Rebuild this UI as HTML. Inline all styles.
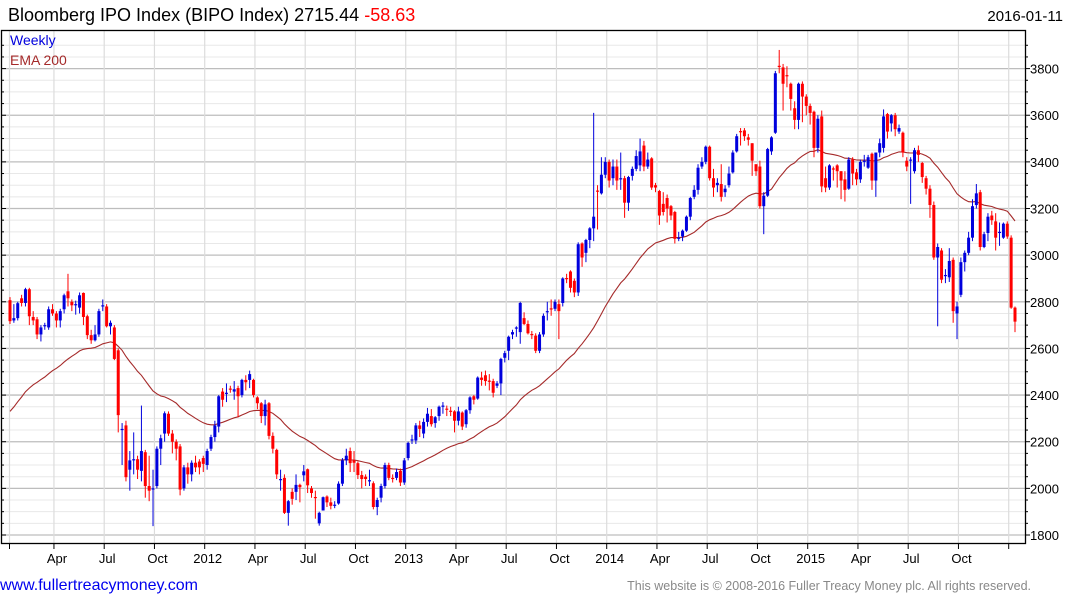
<!DOCTYPE html>
<html><head><meta charset="utf-8">
<style>
body{margin:0;background:#fff;width:1075px;height:600px;overflow:hidden;font-family:"Liberation Sans",Arial,sans-serif;}
svg{display:block}
</style></head>
<body>
<svg id="chart" width="1075" height="600" xmlns="http://www.w3.org/2000/svg">
<g id="grid"></g>
<g id="ema"></g>
<g id="candles"></g>
<rect x="1.5" y="30.5" width="1024" height="513" fill="none" stroke="#000" stroke-width="1.3"/>
<g id="axes" font-size="13" fill="#000"></g>
<text x="8" y="21" font-size="18" fill="#000">Bloomberg IPO Index (BIPO Index) 2715.44 <tspan fill="#ff0000">-58.63</tspan></text>
<text x="1063" y="21" font-size="15" fill="#000" text-anchor="end">2016-01-11</text>
<text x="10" y="45" font-size="14" fill="#0000dd">Weekly</text>
<text x="10" y="65" font-size="14" fill="#a52a2a">EMA 200</text>
<text x="0" y="590" font-size="16" fill="#0000ee">www.fullertreacymoney.com</text>
<text x="1031" y="590" font-size="12.5" fill="#888" text-anchor="end">This website is © 2008-2016 Fuller Treacy Money plc. All rights reserved.</text>
</svg>
<script>
const opens=[2807,2720,2730,2815,2795,2854,2735,2725,2660,2695,2690,2768,2750,2720,2768,2845,2800,2785,2775,2838,2738,2657,2635,2660,2780,2780,2695,2690,2592,2250,2270,2080,2122,2125,2075,2155,2010,1995,2010,2170,2235,2320,2235,2200,2180,2000,2090,2060,2110,2115,2130,2100,2170,2220,2265,2415,2405,2428,2415,2430,2400,2465,2465,2465,2390,2365,2310,2365,2225,2165,2038,2045,1895,1985,1985,2015,2056,2082,2000,1963,1850,1905,1965,1940,1928,1935,2020,2120,2160,2120,2108,2057,2050,2033,2022,1920,1960,2010,2100,2045,2045,2075,2025,2130,2205,2205,2270,2235,2285,2310,2280,2310,2352,2342,2333,2330,2290,2325,2275,2335,2395,2385,2475,2485,2462,2460,2440,2450,2560,2590,2660,2685,2670,2730,2705,2662,2655,2590,2660,2755,2772,2770,2790,2795,2902,2930,2890,2840,3050,3010,3065,3115,3277,3265,3345,3400,3330,3380,3328,3330,3225,3340,3370,3385,3470,3380,3415,3300,3275,3220,3245,3210,3185,3073,3080,3105,3165,3250,3280,3380,3400,3465,3330,3300,3305,3270,3300,3355,3445,3532,3535,3505,3480,3390,3380,3210,3255,3445,3525,3812,3805,3772,3735,3630,3580,3735,3680,3640,3615,3460,3595,3330,3290,3372,3385,3360,3325,3285,3410,3355,3325,3403,3375,3435,3320,3440,3460,3605,3565,3600,3530,3525,3405,3405,3360,3450,3395,3330,3285,3215,2990,3020,2912,2905,2980,2750,2830,2970,3010,3075,3215,3270,3035,3095,3170,3145,3095,3075,3135,3075,2775];
const closes=[2717,2730,2794,2795,2854,2738,2720,2660,2690,2700,2768,2750,2720,2760,2828,2815,2785,2790,2828,2735,2657,2635,2660,2760,2785,2695,2710,2555,2314,2255,2048,2120,2125,2080,2160,2010,1990,2000,2170,2215,2322,2235,2200,2170,1995,2090,2060,2110,2090,2090,2105,2160,2220,2270,2395,2380,2410,2425,2425,2395,2465,2455,2490,2400,2365,2310,2360,2225,2170,2060,2040,1895,1945,1955,2015,2005,2073,2013,1980,1962,1895,1962,1940,1925,1930,2020,2120,2140,2108,2110,2057,2040,2040,2035,1920,1950,2010,2100,2045,2040,2070,2025,2120,2195,2210,2270,2255,2285,2320,2275,2305,2350,2355,2340,2330,2290,2330,2265,2335,2390,2380,2475,2465,2460,2460,2410,2450,2555,2580,2650,2670,2690,2795,2705,2665,2660,2590,2660,2740,2760,2770,2800,2760,2900,2900,2860,2840,3047,2990,3065,3115,3165,3275,3345,3400,3320,3380,3320,3330,3225,3335,3370,3425,3445,3380,3410,3290,3290,3170,3185,3200,3170,3070,3075,3105,3165,3245,3280,3375,3400,3465,3330,3290,3310,3250,3285,3350,3440,3510,3530,3510,3495,3405,3360,3210,3255,3455,3505,3780,3810,3735,3770,3670,3580,3735,3680,3640,3610,3460,3585,3295,3290,3385,3370,3360,3320,3280,3410,3350,3325,3400,3405,3420,3320,3440,3480,3595,3530,3600,3540,3545,3440,3380,3410,3450,3430,3335,3285,3215,2990,3035,2895,2915,2975,2760,2780,2970,3010,3075,3210,3265,3035,3090,3165,3150,3075,3100,3135,3080,2775,2715];
const highs=[2820,2790,2800,2830,2860,2860,2760,2735,2700,2710,2780,2790,2760,2770,2835,2920,2810,2805,2840,2840,2745,2680,2700,2770,2810,2790,2720,2700,2600,2280,2290,2160,2240,2140,2355,2165,2140,2080,2180,2230,2330,2330,2250,2210,2190,2100,2110,2120,2140,2125,2140,2170,2230,2290,2400,2430,2450,2440,2460,2440,2470,2485,2505,2470,2395,2370,2380,2370,2240,2170,2080,2060,1950,2000,2060,2020,2100,2085,2010,1990,1900,1965,1970,1960,1945,2030,2130,2170,2175,2160,2115,2075,2060,2080,2030,1960,2020,2110,2110,2060,2085,2085,2130,2200,2230,2280,2290,2300,2345,2340,2310,2355,2370,2355,2350,2335,2350,2330,2340,2395,2400,2480,2500,2505,2490,2470,2460,2560,2590,2655,2680,2695,2800,2755,2720,2675,2665,2670,2750,2800,2810,2810,2810,2905,2920,2935,2900,3055,3055,3070,3120,3610,3300,3420,3420,3410,3410,3410,3440,3340,3340,3380,3450,3500,3490,3440,3420,3310,3280,3270,3260,3215,3190,3100,3110,3170,3250,3300,3390,3420,3470,3470,3370,3330,3390,3300,3380,3450,3520,3545,3545,3520,3480,3390,3405,3270,3460,3510,3790,3880,3820,3810,3740,3660,3740,3745,3690,3650,3620,3600,3620,3380,3390,3380,3390,3360,3360,3420,3420,3370,3410,3430,3430,3440,3440,3500,3625,3610,3605,3610,3560,3530,3420,3420,3460,3470,3400,3340,3300,3230,3050,3030,2940,3030,2990,2800,2990,3020,3100,3240,3305,3280,3100,3180,3190,3180,3140,3140,3145,3085,2780];
const lows=[2705,2710,2720,2780,2780,2700,2700,2640,2630,2680,2680,2740,2690,2690,2750,2780,2760,2745,2750,2700,2640,2620,2630,2650,2760,2690,2660,2550,2240,2100,2030,1990,2060,2040,2030,1960,1945,1838,2000,2100,2200,2225,2150,2120,1970,1990,2020,2030,2070,2060,2070,2080,2160,2200,2240,2350,2370,2410,2380,2305,2390,2420,2430,2390,2340,2280,2270,2210,2150,2040,1990,1890,1840,1930,1950,1940,2030,1980,1960,1870,1840,1920,1920,1910,1915,1930,2010,2100,2070,2070,2040,2000,2010,2010,1910,1885,1940,2000,2035,2025,2035,2010,2015,2120,2190,2190,2220,2215,2265,2265,2260,2290,2320,2310,2310,2240,2270,2250,2260,2320,2360,2380,2440,2440,2420,2390,2430,2400,2540,2550,2640,2650,2620,2700,2660,2640,2580,2580,2650,2720,2740,2760,2640,2780,2880,2840,2820,2825,2950,2970,3030,3060,3110,3260,3330,3290,3300,3280,3280,3160,3190,3320,3360,3360,3360,3370,3280,3270,3130,3170,3140,3150,3050,3060,3060,3100,3150,3240,3260,3370,3390,3320,3250,3270,3230,3250,3290,3350,3440,3470,3490,3470,3340,3340,3200,3090,3250,3430,3520,3780,3620,3720,3620,3540,3540,3570,3600,3560,3420,3440,3270,3270,3280,3320,3290,3240,3230,3280,3300,3300,3310,3380,3370,3280,3250,3420,3440,3500,3530,3510,3520,3420,3360,3220,3350,3400,3310,3260,3160,2980,2695,2880,2880,2885,2710,2640,2820,2930,3000,3060,3200,3020,3030,3060,3130,3020,3040,3070,3070,2770,2670];
const emaSeed=2310;
const emaPeriod=40;
const yTicks=[1800,2000,2200,2400,2600,2800,3000,3200,3400,3600,3800];
const xLabels=["Apr","Jul","Oct","2012","Apr","Jul","Oct","2013","Apr","Jul","Oct","2014","Apr","Jul","Oct","2015","Apr","Jul","Oct"];
const xLabelWeeks=[11.5,24.5,37.5,50.5,63.5,76.5,89.5,102.5,115.5,128.5,141.5,154.5,167.5,180.5,193.5,206.5,219.5,232.5,245.5];

const NS="http://www.w3.org/2000/svg";
function mk(tag,attrs,parent){const e=document.createElementNS(NS,tag);for(const k in attrs)e.setAttribute(k,attrs[k]);parent.appendChild(e);return e;}
const n=closes.length;
const x0=10,x1=1015;
function xs(i){return x0+(x1-x0)*i/(n-1);}
function ys(v){return 535-(v-1800)*0.2332;}

const grid=document.getElementById('grid');
for(let v=1800;v<=3900;v+=50){
  const major=v%200===0;
  const l=mk('line',{x1:2,x2:1025,y1:ys(v),y2:ys(v),stroke:major?'#bdbdbd':'#e8e8e8','stroke-width':major?1.3:1},grid);
  
  
}
const gridWeeks=[0].concat(xLabelWeeks).concat([258.5]);
gridWeeks.forEach(w=>{
  const x=xs(w)-0.5;
  const l=mk('line',{x1:x,x2:x,y1:31,y2:543,stroke:'#dcdcdc','stroke-width':1.2},grid);
  
  
  const t=mk('line',{x1:x,x2:x,y1:543,y2:549,stroke:'#000','stroke-width':1},grid);
  
  
});

const axes=document.getElementById('axes');
yTicks.forEach(v=>{
  const t=mk('text',{x:1030,y:ys(v)+5,'font-size':13},axes);
  t.textContent=v;
  
  
});
for(let v=1800;v<=3900;v+=50){
  const tk=mk('line',{x1:1025,x2:v%200===0?1030:1028,y1:ys(v),y2:ys(v),stroke:'#000'},axes);
  
  
  const tl=mk('line',{x1:1,x2:v%200===0?6:4,y1:ys(v),y2:ys(v),stroke:'#000'},axes);
  
  
}
xLabels.forEach((s,i)=>{
  const t=mk('text',{x:xs(xLabelWeeks[i])+2.5,y:563,'text-anchor':'middle','font-size':13},axes);
  t.textContent=s;
  
  
});

// EMA
const a=2/(emaPeriod+1);let e=emaSeed;const pts=[];
for(let i=0;i<n;i++){e=e+a*(closes[i]-e);pts.push(xs(i).toFixed(1)+','+ys(e).toFixed(1));}
const em=mk('polyline',{points:pts.join(' '),fill:'none',stroke:'#a52a2a','stroke-width':1.1},document.getElementById('ema'));



// candles
const cg=document.getElementById('candles');
for(let i=0;i<n;i++){
  const up=closes[i]>=opens[i];const col=up?'#0000dd':'#ff0000';const x=xs(i);
  const w=mk('line',{x1:x,x2:x,y1:ys(highs[i]),y2:ys(lows[i]),stroke:col,'stroke-width':1},cg);
  
  
  const top=ys(Math.max(opens[i],closes[i])),bot=ys(Math.min(opens[i],closes[i]));
  const r=mk('rect',{x:x-1.5,y:top,width:3,height:Math.max(1.2,bot-top),fill:col},cg);
  
  
}
</script>
</body></html>
